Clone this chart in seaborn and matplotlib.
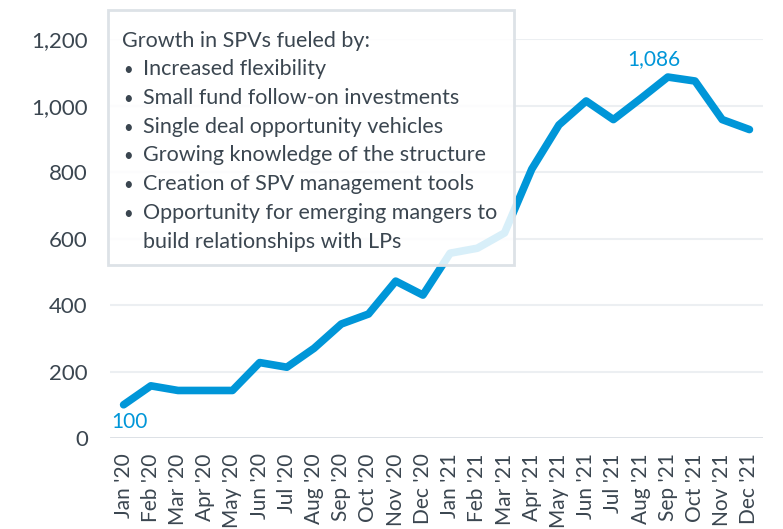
import matplotlib
matplotlib.use("Agg")
import matplotlib.pyplot as plt
import matplotlib.patches as mpatches
import seaborn as sns
import pandas as pd
import numpy as np

months = ["Jan '20", "Feb '20", "Mar '20", "Apr '20", "May '20", "Jun '20",
          "Jul '20", "Aug '20", "Sep '20", "Oct '20", "Nov '20", "Dec '20",
          "Jan '21", "Feb '21", "Mar '21", "Apr '21", "May '21", "Jun '21",
          "Jul '21", "Aug '21", "Sep '21", "Oct '21", "Nov '21", "Dec '21"]
spv_count = [100, 157, 143, 143, 143, 227, 213, 270, 343, 373, 472, 430,
             556, 571, 617, 809, 942, 1014, 958, 1021, 1086, 1074, 958, 928]
y_ticks = [0, 200, 400, 600, 800, 1000, 1200]

box_title = "Growth in SPVs fueled by:"
box_items = ["Increased flexibility",
             "Small fund follow-on investments",
             "Single deal opportunity vehicles",
             "Growing knowledge of the structure",
             "Creation of SPV management tools",
             "Opportunity for emerging mangers to\nbuild relationships with LPs"]

blue = "#0096d8"
txt = "#3b4650"

sns.set_theme(style="white")
plt.rcParams['font.family'] = ['Lato', 'DejaVu Sans']

df = pd.DataFrame({"month": months, "count": spv_count, "idx": np.arange(len(months))})

fig = plt.figure(figsize=(7.83, 5.29), dpi=100)
ax = fig.add_axes([0.1405, 0.172, 0.834, 0.754])

for v in y_ticks:
    ax.axhline(v, color="#d9dee3" if v == 0 else "#eceff2", lw=2 if v == 0 else 1.5, zorder=0)

sns.lineplot(data=df, x="idx", y="count", ax=ax, color=blue, lw=5.5,
             solid_capstyle="round", solid_joinstyle="round", zorder=2, clip_on=False)

ax.set_xlim(-0.5, len(months) - 0.5)
ax.set_ylim(0, 1200)
ax.set_xticks(df["idx"])
ax.set_xticklabels(months, rotation=90, fontsize=15, color=txt)
ax.set_yticks(y_ticks)
ax.set_yticklabels([f"{v:,}" for v in y_ticks], fontsize=16, color=txt)
ax.tick_params(axis="y", length=0, pad=16)
ax.tick_params(axis="x", length=0, pad=11)
ax.set_xlabel("")
ax.set_ylabel("")
sns.despine(ax=ax, left=True, bottom=True)

# first and peak labels
ax.annotate(f"{spv_count[0]:,}", (0, spv_count[0]), xytext=(-9, -5),
            textcoords="offset points", ha="left", va="top", fontsize=15, color=blue)
peak = int(np.argmax(spv_count))
ax.annotate(f"{spv_count[peak]:,}", (peak, spv_count[peak]), xytext=(-10, 6),
            textcoords="offset points", ha="center", va="bottom", fontsize=15, color=blue)

# text box over the line
W, H = 783, 529
box = mpatches.Rectangle((108 / W, 1 - 265 / H), (514 - 108) / W, (265 - 10) / H,
                         transform=fig.transFigure, facecolor="white", alpha=0.85,
                         edgecolor="none", zorder=5)
frame = mpatches.Rectangle((108 / W, 1 - 265 / H), (514 - 108) / W, (265 - 10) / H,
                           transform=fig.transFigure, facecolor="none",
                           edgecolor="#dde2e7", lw=2, zorder=6)
fig.patches.extend([box, frame])

y0 = 46.7
step = 28.7
fs = 15.5
fig.text(122 / W, 1 - y0 / H, box_title, fontsize=fs, color=txt, va="baseline", zorder=7)
line = 1
for item in box_items:
    parts = item.split("\n")
    fig.text(123 / W, 1 - (y0 + line * step) / H, "•", fontsize=12, color=txt,
             va="baseline", zorder=7)
    for p in parts:
        fig.text(143 / W, 1 - (y0 + line * step) / H, p, fontsize=fs, color=txt,
                 va="baseline", zorder=7)
        line += 1

fig.savefig("out.png", dpi=100)
